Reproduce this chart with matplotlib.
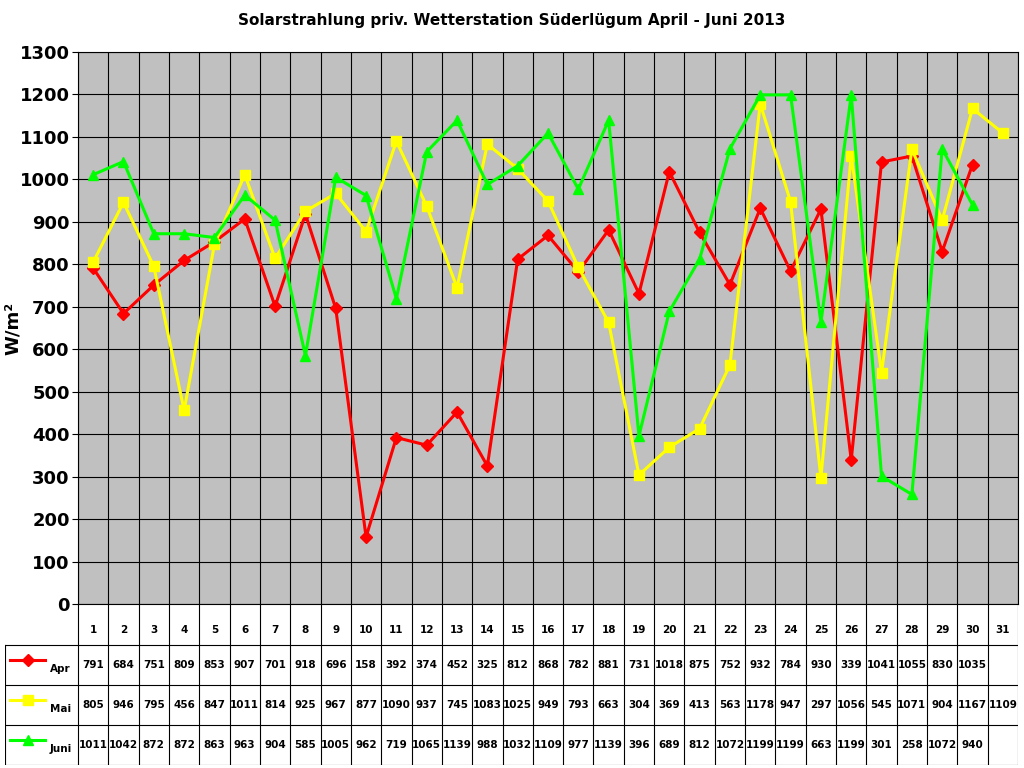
import matplotlib
matplotlib.use("Agg")
import matplotlib.pyplot as plt
import numpy as np

days = list(range(1, 32))
apr = [791, 684, 751, 809, 853, 907, 701, 918, 696, 158, 392, 374, 452, 325, 812,
       868, 782, 881, 731, 1018, 875, 752, 932, 784, 930, 339, 1041, 1055, 830, 1035]
mai = [805, 946, 795, 456, 847, 1011, 814, 925, 967, 877, 1090, 937, 745, 1083, 1025,
       949, 793, 663, 304, 369, 413, 563, 1178, 947, 297, 1056, 545, 1071, 904, 1167, 1109]
juni = [1011, 1042, 872, 872, 863, 963, 904, 585, 1005, 962, 719, 1065, 1139, 988, 1032,
        1109, 977, 1139, 396, 689, 812, 1072, 1199, 1199, 663, 1199, 301, 258, 1072, 940]

series = [
    ("Apr", apr, "#ff0000", "D", 6),
    ("Mai", mai, "#ffff00", "s", 7),
    ("Juni", juni, "#00ff00", "^", 7),
]

W, H = 1024, 768
fig = plt.figure(figsize=(W / 100, H / 100), dpi=100)
ax = fig.add_axes([78 / W, 1 - 604 / H, 940 / W, 552 / H])
ax.set_facecolor("#c0c0c0")
for name, vals, col, mk, ms in series:
    x = days[:len(vals)]
    ax.plot(x, vals, color=col, marker=mk, markersize=ms, linewidth=2.2, zorder=3)
ax.set_xlim(0.5, 31.5)
ax.set_ylim(0, 1300)
ax.set_yticks(range(0, 1301, 100))
ax.set_xticks(np.arange(0.5, 31.6, 1))
ax.set_xticklabels([])
ax.tick_params(axis="x", length=0)
ax.tick_params(axis="y", labelsize=13, length=4, pad=2)
for lab in ax.get_yticklabels():
    lab.set_fontweight("bold")
ax.grid(True, color="black", linewidth=0.8)
ax.set_axisbelow(True)
ax.set_ylabel("W/m²", fontsize=13, fontweight="bold")
ax.yaxis.set_label_coords(-0.06, 0.5)
fig.text(0.5, 1 - 20 / H, "Solarstrahlung priv. Wetterstation Süderlügum April - Juni 2013",
         ha="center", va="center", fontsize=11, fontweight="bold")

# data table below
tx = fig.add_axes([5 / W, 3 / H, 1013 / W, 161 / H])
tx.set_xlim(5, 1018)
tx.set_ylim(765, 604)
tx.axis("off")
x0, x1 = 78, 1018
cw = (x1 - x0) / 31
rows = [604, 645, 685, 725, 765]
for i in range(32):
    tx.plot([x0 + i * cw] * 2, [604, 765], color="black", lw=0.8)
for y in rows[1:]:
    tx.plot([5, x1], [y, y], color="black", lw=0.8)
tx.plot([5, 5], [645, 765], color="black", lw=0.8)
for i, d in enumerate(days):
    tx.text(x0 + (i + 0.5) * cw, 630, str(d), ha="center", va="center",
            fontsize=7.5, fontweight="bold")
for r, (name, vals, col, mk, ms) in enumerate(series):
    yc = (rows[r + 1] + rows[r + 2]) / 2
    tx.plot([10, 45], [yc - 5, yc - 5], color=col, lw=2.2)
    tx.plot([28], [yc - 5], color=col, marker=mk, markersize=ms)
    tx.text(50, yc + 4, name, ha="left", va="center", fontsize=7.5, fontweight="bold")
    for i, v in enumerate(vals):
        tx.text(x0 + (i + 0.5) * cw, yc, str(v), ha="center", va="center",
                fontsize=7.5, fontweight="bold")

fig.savefig("out.png", dpi=100)
